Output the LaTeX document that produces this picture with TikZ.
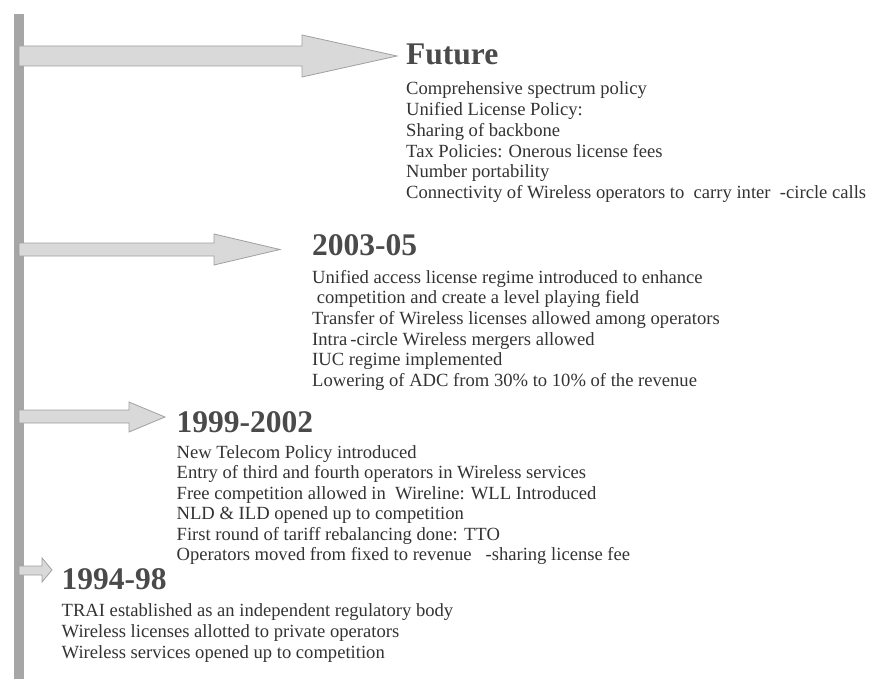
\documentclass[tikz,border=0pt]{standalone}
\usepackage{fontspec}
\setmainfont{Liberation Serif}
\definecolor{barcol}{HTML}{A6A6A6}
\definecolor{arrfill}{HTML}{D9D9D9}
\definecolor{arrline}{HTML}{A0A0A0}
\definecolor{txtcol}{HTML}{333333}
\definecolor{headcol}{HTML}{4A4A4A}
\tikzset{
  bararrow/.style={fill=arrfill, draw=arrline, line width=0.8pt, line join=miter},
  heading/.style={anchor=base west, inner sep=0pt, text=headcol, font=\fontsize{31.5}{36}\selectfont\bfseries},
  item/.style={anchor=base west, inner sep=0pt, text=txtcol, font=\fontsize{18.6}{22}\selectfont}
}
\begin{document}
\begin{tikzpicture}[x=1pt,y=-1pt]
\useasboundingbox (0,0) rectangle (869,679);
% vertical bar
\fill[barcol] (14,14) rectangle (24,679);
% arrows
\draw[bararrow] (19,46) -- (302,46) -- (302,35) -- (397,56) -- (302,77) -- (302,66) -- (19,66) -- cycle;
\draw[bararrow] (19,243) -- (214,243) -- (214,234) -- (280,249.5) -- (214,265) -- (214,256) -- (19,256) -- cycle;
\draw[bararrow] (19,410) -- (129,410) -- (129,402) -- (165,417) -- (129,432) -- (129,423) -- (19,423) -- cycle;
\draw[bararrow] (19,566) -- (42,566) -- (42,558) -- (52,570) -- (42,582) -- (42,575) -- (19,575) -- cycle;
% Future
\node[heading] (hF) at (406,65) {Future};
\node[item] (f1) at (406,95) {Comprehensive spectrum policy};
\node[item] (f2) at (406,116) {Unified License Policy:};
\node[item] (f3) at (406,137) {Sharing of backbone};
\node[item] (f4) at (406,157.5) {Tax Policies: Onerous license fees};
\node[item] (f5) at (406,178) {Number portability};
\node[item] (f6) at (406,198.5) {Connectivity of Wireless operators to\ \ carry inter\ \ -circle calls};
% 2003-05
\node[heading] (hB) at (312,255) {2003-05};
\node[item] (b1) at (312,283) {Unified access license regime introduced to enhance};
\node[item] (b2) at (312,303.7) {\ competition and create a level playing field};
\node[item] (b3) at (312,324.4) {Transfer of Wireless licenses allowed among operators};
\node[item] (b4) at (312,345) {Intra\,-circle Wireless mergers allowed};
\node[item] (b5) at (312,365.8) {IUC regime implemented};
\node[item] (b6) at (312,386.5) {Lowering of ADC from 30\% to 10\% of the revenue};
% 1999-2002
\node[heading] (hC) at (176.5,432.3) {1999-2002};
\node[item] (c1) at (176.5,458.3) {New Telecom Policy introduced};
\node[item] (c2) at (176.5,478.8) {Entry of third and fourth operators in Wireless services};
\node[item] (c3) at (176.5,499.3) {Free competition allowed in\ \ Wireline: WLL Introduced};
\node[item] (c4) at (176.5,519.8) {NLD \& ILD opened up to competition};
\node[item] (c5) at (176.5,540.3) {First round of tariff rebalancing done: TTO};
\node[item] (c6) at (176.5,560.7) {Operators moved from fixed to revenue\ \ \ -sharing license fee};
% 1994-98
\node[heading] (hD) at (61.5,589.3) {1994-98};
\node[item] (d1) at (61.5,616.7) {TRAI established as an independent regulatory body};
\node[item] (d2) at (61.5,637.5) {Wireless licenses allotted to private operators};
\node[item] (d3) at (61.5,658) {Wireless services opened up to competition};
\end{tikzpicture}
\end{document}
